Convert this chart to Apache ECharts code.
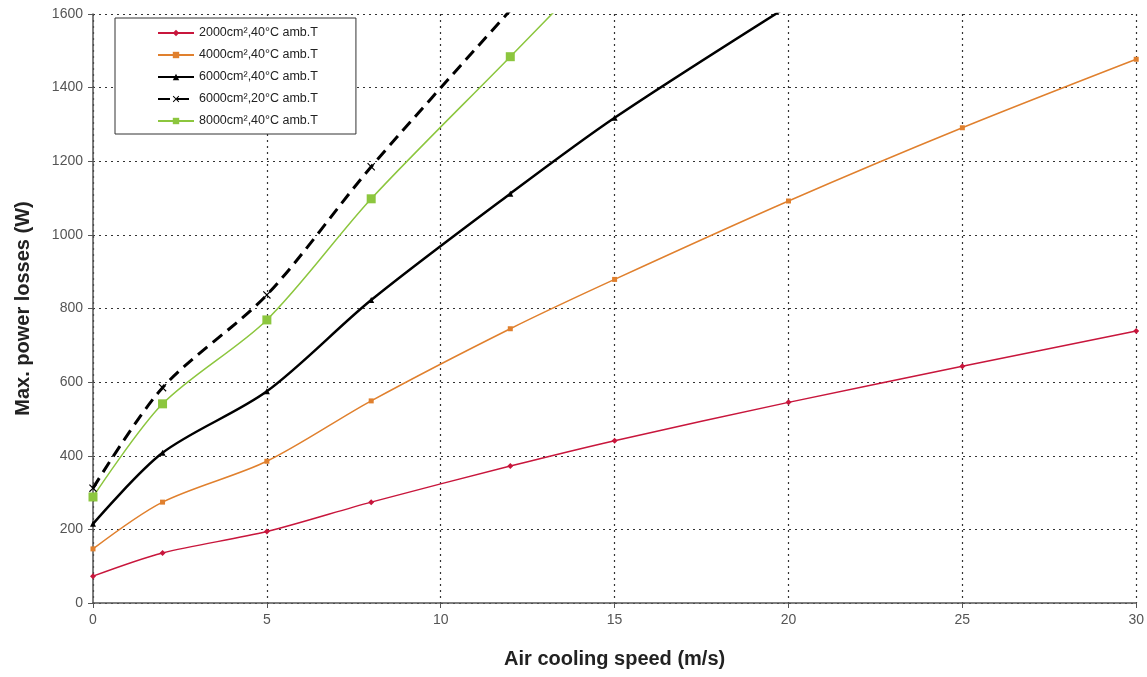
<!DOCTYPE html>
<html>
<head>
<meta charset="utf-8">
<script src="https://cdn.jsdelivr.net/npm/echarts@6/dist/echarts.min.js"></script>
<style>
  html, body { margin: 0; padding: 0; background: #fff; }
  #chart { width: 1147px; height: 677px; }
</style>
</head>
<body>
<div id="chart"></div>
<script>
// air speed (m/s) and max power losses (W)
var speedA = [0, 2, 5, 8, 12, 15, 20, 25, 30];
var loss2000 = [73, 136, 194, 274, 372, 441, 545, 643, 739];
var loss4000 = [147, 274, 385, 549, 745, 879, 1092, 1291, 1477];
var speedB = [0, 2, 5, 8, 12, 15, 20];
var loss6000 = [215, 408, 575, 823, 1112, 1318, 1622];
var speedC = [0, 2, 5, 8, 12];
var loss6000at20 = [312, 585, 837, 1185, 1610];
var speedD = [0, 2, 5, 8, 12, 15];
var loss8000 = [288, 541, 769, 1098, 1484, 1775];

var names = ['2000cm²,40°C amb.T', '4000cm²,40°C amb.T', '6000cm²,40°C amb.T',
             '6000cm²,20°C amb.T', '8000cm²,40°C amb.T'];

function pairs(xs, ys) {
  return xs.map(function (x, i) { return [x, ys[i]]; });
}

var crossIcon = 'path://M0,1L1,0L5,4L9,0L10,1L6,5L10,9L9,10L5,6L1,10L0,9L4,5Z';

var chart = echarts.init(document.getElementById('chart'));
chart.setOption({
  animation: false,
  textStyle: { fontFamily: 'Arial, "Liberation Sans", sans-serif' },
  grid: { left: 93, right: 10, top: 14, bottom: 74 },
  legend: {
    orient: 'vertical',
    left: 115,
    top: 18,
    backgroundColor: '#fff',
    borderColor: '#333',
    borderWidth: 1,
    borderRadius: 0,
    padding: [8, 38, 6, 42],
    itemWidth: 36,
    itemHeight: 8,
    itemGap: 8,
    textStyle: { fontSize: 12.5, color: '#222', lineHeight: 14 },
    data: names
  },
  xAxis: {
    type: 'value',
    min: 0, max: 30, interval: 5,
    name: 'Air cooling speed (m/s)',
    nameLocation: 'middle',
    nameGap: 46,
    nameTextStyle: { fontSize: 20, fontWeight: 'bold', color: '#222' },
    axisLine: { lineStyle: { color: '#555', width: 1.5 } },
    axisTick: { show: true, length: 5, lineStyle: { color: '#555' } },
    axisLabel: { fontSize: 14, color: '#555', margin: 10 },
    splitLine: { show: true, lineStyle: { type: [2, 4], color: '#333', width: 1.2 } }
  },
  yAxis: {
    type: 'value',
    min: 0, max: 1600, interval: 200,
    name: 'Max. power losses (W)',
    nameLocation: 'middle',
    nameGap: 60,
    nameTextStyle: { fontSize: 20, fontWeight: 'bold', color: '#222' },
    axisLine: { show: true, lineStyle: { color: '#555', width: 1.5 } },
    axisTick: { show: true, length: 5, lineStyle: { color: '#555' } },
    axisLabel: {
      fontSize: 14, color: '#555', margin: 10,
      formatter: function (value) { return value + ''; }
    },
    splitLine: { show: true, lineStyle: { type: [2, 4], color: '#333', width: 1.2 } }
  },
  series: [
    {
      name: names[0], type: 'line', smooth: 0.3, clip: true,
      symbol: 'diamond', symbolSize: 6,
      itemStyle: { color: '#c8163c' },
      lineStyle: { color: '#c8163c', width: 1.5 },
      data: pairs(speedA, loss2000)
    },
    {
      name: names[1], type: 'line', smooth: 0.3, clip: true,
      symbol: 'rect', symbolSize: 5,
      itemStyle: { color: '#e0802e' },
      lineStyle: { color: '#e0802e', width: 1.5 },
      data: pairs(speedA, loss4000)
    },
    {
      name: names[2], type: 'line', smooth: 0.3, clip: true,
      symbol: 'triangle', symbolSize: 6,
      itemStyle: { color: '#000' },
      lineStyle: { color: '#000', width: 2.5 },
      data: pairs(speedB, loss6000)
    },
    {
      name: names[3], type: 'line', smooth: 0.3, clip: true,
      symbol: crossIcon, symbolSize: 8,
      itemStyle: { color: '#000' },
      lineStyle: { color: '#000', width: 3, type: [12, 7] },
      data: pairs(speedC, loss6000at20)
    },
    {
      name: names[4], type: 'line', smooth: 0.3, clip: true,
      symbol: 'rect', symbolSize: 9,
      itemStyle: { color: '#8cc63e' },
      lineStyle: { color: '#8cc63e', width: 1.5 },
      data: pairs(speedD, loss8000)
    }
  ]
});
</script>
</body>
</html>
